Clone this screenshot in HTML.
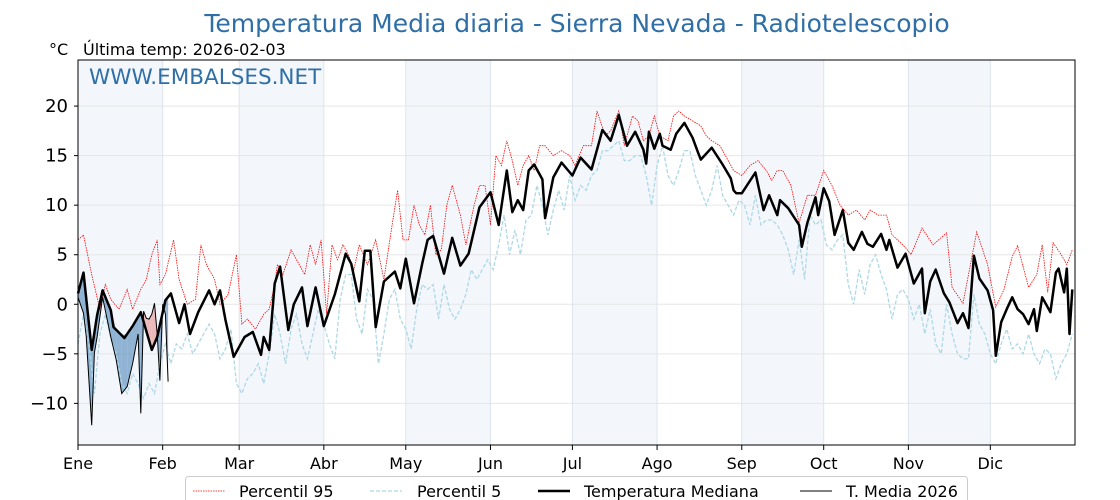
<!DOCTYPE html>
<html><head><meta charset="utf-8">
<style>
body{margin:0;background:#fff;}
svg{display:block;font-family:"DejaVu Sans","Liberation Sans",sans-serif;}
</style></head>
<body>
<svg id="chart" width="1120" height="500" viewBox="0 0 1120 500" xmlns="http://www.w3.org/2000/svg">
<text x="577" y="32" text-anchor="middle" font-size="25" fill="#2f6fa6">Temperatura Media diaria - Sierra Nevada - Radiotelescopio</text>
<text x="49" y="55" font-size="16" fill="#000">°C</text>
<text x="83" y="55" font-size="16" fill="#000">Última temp: 2026-02-03</text>
<g id="plot"></g>
<text x="89" y="84" font-size="21.5" fill="#2f6fa6">WWW.EMBALSES.NET</text>
<g>
<rect x="185.5" y="476.5" width="782" height="30" rx="3" fill="#fff" stroke="#ccc"/>
<g><line x1="193" y1="491" x2="225" y2="491" stroke="red" stroke-width="0.8" stroke-dasharray="1.5,1"/><text x="239" y="497" font-size="16">Percentil 95</text></g>
<g><line x1="370" y1="491" x2="402" y2="491" stroke="#add8e6" stroke-width="1.2" stroke-dasharray="4,2"/><text x="417" y="497" font-size="16">Percentil 5</text></g>
<g><line x1="538" y1="491" x2="570" y2="491" stroke="#000" stroke-width="2.5"/><text x="584" y="497" font-size="16">Temperatura Mediana</text></g>
<g><line x1="800" y1="491" x2="832" y2="491" stroke="#000" stroke-width="1"/><text x="846" y="497" font-size="16">T. Media 2026</text></g>
</g>
</svg>
<script>
const monthLabels=["Ene","Feb","Mar","Abr","May","Jun","Jul","Ago","Sep","Oct","Nov","Dic"];
const monthStarts=[0,31,59,90,120,151,181,212,243,273,304,334];
const yTicks=[-10,-5,0,5,10,15,20];
const medDays=[0,2,5,7,9,12,13,17,20,23,27,29,32,34,37,39,41,44,48,50,52,54,57,61,64,67,68,70,72,74,77,79,82,84,87,90,94,98,100,103,105,107,109,112,116,118,120,123,126,128,130,134,137,140,143,147,151,154,157,159,161,163,165,167,170,171,174,177,181,184,188,190,192,195,198,201,204,207,208,209,211,213,214,217,219,222,225,227,228,232,236,239,240,241,243,248,251,253,256,257,260,264,265,267,270,271,273,275,277,280,282,284,287,289,291,294,296,297,300,303,306,309,310,312,314,317,319,322,324,326,328,330,333,335,336,338,340,342,344,346,348,350,351,353,356,358,359,361,362,363,364];
const med=[1.1,3.2,-4.6,-1.1,1.4,-0.6,-2.3,-3.4,-2.2,-0.8,-4.6,-3.3,0.4,1.1,-1.9,0,-3,-0.8,1.4,0,1.4,-1.6,-5.3,-3.3,-2.8,-5.1,-3.3,-4.6,2.1,3.8,-2.6,0,1.7,-2.2,1.7,-2.2,1,5.1,4.1,0.3,5.4,5.4,-2.3,2.3,3.3,1.6,4.6,0.1,4.1,6.5,6.9,3.1,6.7,3.9,5.1,9.8,11.3,8,13.5,9.3,10.5,9.5,13.5,14.1,12.6,8.7,12.8,14.3,13,14.8,13.6,15.6,17.6,16.5,19.1,16,17.4,15.6,14.2,17.4,15.7,17.2,16,15.6,17.2,18.3,16.8,15.3,14.6,15.8,14.1,12.7,11.5,11.2,11.2,13.3,9.5,11,9,10.5,9.7,8,5.8,8.2,10.8,9,11.7,10.4,7,9.5,6.2,5.5,7.3,6.1,5.8,7.1,5.5,6.5,3.7,5.1,2.1,3.6,-0.9,2.3,3.5,1.1,0.2,-1.9,-0.9,-2.4,4.9,2.6,1.4,-0.6,-5.2,-1.8,-0.5,0.7,-0.5,-1,-2,-0.5,-2.7,0.7,-0.8,3.2,3.6,1.2,3.6,-3,1.5];
const p95Days=[0,2,5,8,10,12,15,18,20,23,25,27,29,30,32,35,37,40,43,45,47,50,52,55,58,60,62,65,68,70,72,73,75,78,80,83,85,87,89,91,93,95,97,99,101,103,106,109,112,115,117,119,121,123,125,127,129,131,133,135,137,140,142,145,147,149,151,153,155,157,159,161,163,165,167,169,171,174,177,180,182,185,188,190,193,195,198,200,203,205,207,209,211,213,216,218,220,222,225,228,230,232,235,237,240,243,246,249,252,254,256,258,261,264,267,270,273,276,279,282,285,288,290,293,296,298,300,303,305,309,313,318,320,324,329,333,336,339,342,344,348,351,353,355,357,360,362,364];
const p95=[6.5,7,3,-0.5,2,0.5,-0.5,1.5,-0.5,1.5,2.5,5,6.5,2,3,6.5,2.5,0,0.5,6,4,2.5,0,1,5,-2,-1.5,-2.5,-1,-0.5,2,4,3,5.5,4.5,3,6,4,6.5,-1,6,4.5,6,5,3.5,6,4,6.5,2.5,8,11.5,6.5,6.5,10,8,7,10,5,5.5,10,12,9,6,10,12,12,8,15,14,16.5,14.5,12,14,15,13.5,16,16,15,15.5,15,14,16,16,19.5,17,17.5,19.5,16,19,18.5,16.5,17,19,17,16.5,19,19.5,19,18.5,18,17,16.5,16,15,13.5,13,14,14.5,13.5,12.5,13.5,13.5,12,8.2,11,11,13.5,12,10,9,9.5,8.5,9.5,9,9,7,6.5,5.7,5,7.7,6,7.2,1.7,0.1,7.3,4,-0.3,1.5,4.8,5.9,1.7,3,6,1.2,6.2,5,4,5.5];
const p5Days=[];
for(let d=0;d<=364;d+=2)p5Days.push(d);
const p5=[-4,-1,-4,-9,-3,-1,-3.5,-5,-8,-9,-7,-8,-9.5,-8,-9,-6,-4,-6,-4,-4.5,-3,-5,-4,-3,-2,-3,-5.5,-4.5,-2.5,-8,-9,-7.5,-7,-6,-8,-5,-1,-3,-6,-2.5,-1,-4,-5.5,-3,-0.5,-2,-4,-5.5,0.5,3,3,-1.5,-3,1.5,0.5,-6,-3,0.5,1.5,-1.5,-2.5,-4.5,-0.5,2,1.5,2,-1.5,2,-0.5,-1.5,-0.5,1,3.5,2.5,3.5,4.5,3.5,6,9,5,7.5,5,8.5,9,12,10,7,9.5,11.5,9.5,13,10.5,12,11.5,13,13.5,15.5,15.5,16,16.5,14.5,14.5,15,15,13,10,14,16,13,12,13.5,15.5,15.5,13,11.5,10,11.5,14,11,10,9,10.5,10,8,11,8,8.5,8.5,8,7,5.5,3,6.5,2.5,9,8,8.5,6,5.5,6.5,7,2,0,3.5,1,4,5,3,1.5,-1.5,1,1.5,0.5,-1.5,0,-3,-0.5,-4,-5,0,-3,-5,-5.5,-5.5,1,-2,-3,-5,-6,-4,-2.5,-4.5,-4,-5,-3,-5,-6,-4.5,-5,-7.5,-6,-5,-3];
const t26Days=[0,2,3,5,6,7,9,12,14,16,18,20,22,23,24,25,26,27,28,29,30,31,32,33];
const t26=[0.7,-0.9,-3.2,-12.2,-4.9,-3.3,0.7,-3.3,-5.6,-9,-8.3,-6,-3,-11,-0.7,-1.4,-1.5,-1,0.1,-3,-7.7,0,-1,-7.8];

const NS="http://www.w3.org/2000/svg";
const plot=document.getElementById('plot');
const X0=78,X1=1075,Y0=60,Y1=445,YMIN=-14.2,YMAX=24.65;
function xs(d){return X0+(X1-X0)*d/365;}
function ys(v){return Y1-(Y1-Y0)*(v-YMIN)/(YMAX-YMIN);}
function mk(tag,attrs,parent){const e=document.createElementNS(NS,tag);for(const k in attrs)e.setAttribute(k,attrs[k]);(parent||plot).appendChild(e);return e;}
function interp(days,vals,d){if(d<=days[0])return vals[0];for(let i=1;i<days.length;i++){if(d<=days[i]){const t=(d-days[i-1])/(days[i]-days[i-1]);return vals[i-1]+t*(vals[i]-vals[i-1]);}}return vals[vals.length-1];}

monthStarts.forEach((s,i)=>{
  if(i%2===0){const e=i<11?monthStarts[i+1]:365;
    const r=mk('rect',{x:xs(s),y:Y0,width:xs(e)-xs(s),height:Y1-Y0,fill:'#f3f7fc'});
    
    }
});
yTicks.forEach(v=>{const l=mk('line',{x1:X0,x2:X1,y1:ys(v),y2:ys(v),stroke:'#e6e6e6','stroke-width':1});
  
  
  const t=mk('text',{x:X0-10,y:ys(v)+6,'text-anchor':'end','font-size':18});
  
  
  t.textContent=v<0?'\u2212'+(-v):String(v);
  mk('line',{x1:X0-4,x2:X0,y1:ys(v),y2:ys(v),stroke:'#000'});
});
monthStarts.forEach((s,i)=>{
  if(i>0){const l=mk('line',{x1:xs(s),x2:xs(s),y1:Y0,y2:Y1,stroke:'#dde4ec','stroke-width':1});
  
  }
  mk('line',{x1:xs(s),x2:xs(s),y1:Y1,y2:Y1+5,stroke:'#000'});
  const t=mk('text',{x:xs(s),y:Y1+24,'text-anchor':'middle','font-size':16});
  
  
  t.textContent=monthLabels[i];
});
for(let i=0;i<t26Days.length-1;i++){
  const a=t26Days[i],b=t26Days[i+1];
  const ma=interp(medDays,med,a),mb=interp(medDays,med,b);
  const ta=t26[i],tb=t26[i+1];
  const above=(ta-ma+tb-mb)>0;
  const p=mk('polygon',{points:`${xs(a)},${ys(ma)} ${xs(b)},${ys(mb)} ${xs(b)},${ys(tb)} ${xs(a)},${ys(ta)}`,fill:above?'#e8a0a0':'#4f86b8','fill-opacity':above?0.7:0.6});
  
  
}
function line(days,vals,attrs,name){
  const pts=days.map((d,i)=>xs(d).toFixed(1)+','+ys(vals[i]).toFixed(1)).join(' ');
  const p=mk('polyline',Object.assign({points:pts,fill:'none'},attrs));
  
  
}
line(p95Days,p95,{stroke:'red','stroke-width':0.8,'stroke-dasharray':'1.5,1'},'p95-line');
line(p5Days,p5,{stroke:'#add8e6','stroke-width':1.3,'stroke-dasharray':'4,2'},'p5-line');
line(medDays,med,{stroke:'#000','stroke-width':2.5,'stroke-linejoin':'round'},'median-line');
line(t26Days,t26,{stroke:'#000','stroke-width':1},'t2026-line');
const fr=mk('rect',{x:X0,y:Y0,width:X1-X0,height:Y1-Y0,fill:'none',stroke:'#000','stroke-width':1});


</script>
</body></html>
